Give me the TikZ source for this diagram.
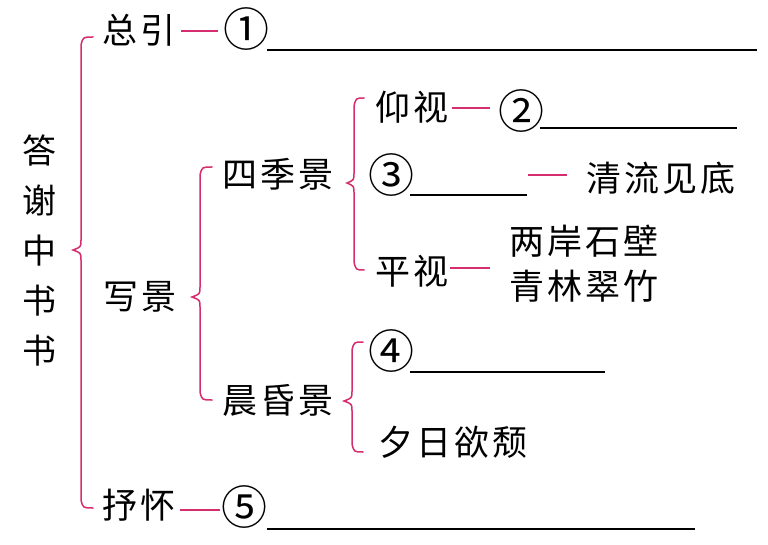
\documentclass[tikz,border=0pt]{standalone}
\usepackage{fontspec}
\newfontfamily\cjk[LetterSpace=8]{Noto Sans CJK SC}
\newfontfamily\cjkplain{Noto Sans CJK SC}
\definecolor{pk}{RGB}{214,45,110}
\newcommand\pkbrace[6]{% x, top, mid, bot, end offset, tip depth
  \draw[brc] (#1+#5,#2) .. controls (#1+2,#2) .. (#1,#2+8) -- (#1,#3-10)
    .. controls (#1,#3-3) .. (#1-#6,#3) .. controls (#1,#3+3) .. (#1,#3+10)
    -- (#1,#4-8) .. controls (#1+2,#4) .. (#1+#5,#4);}
\begin{document}
\begin{tikzpicture}[x=1pt,y=-1pt,
  lbl/.style={inner sep=0pt, font=\cjk\fontsize{35}{35}\selectfont},
  num/.style={inner sep=0pt, font=\cjkplain\fontsize{46}{46}\selectfont},
  pline/.style={draw=pk, line width=1.5pt},
  uline/.style={draw=black, line width=1.6pt},
  brc/.style={draw=pk, line width=1.5pt, line cap=round}]
\useasboundingbox (0,0) rectangle (768,545);
\fill[white] (0,0) rectangle (768,545);

% title
\node[inner sep=0pt, font=\cjkplain\fontsize{34}{50}\selectfont, align=center] (title) at (40,250) {答\\谢\\中\\书\\书};

% level 1
\node[lbl] (zy) at (139,30) {总引};
\node[lbl] (xj) at (140,297) {写景};
\node[lbl] (sh) at (139,505) {抒怀};

% 总引
\node[num] (n1) at (246,29) {①};
\coordinate (u1e) at (757,50);
\draw[pline] (181,31) -- (218,31);
\draw[uline] (267,50) -- (u1e);

% 抒怀
\node[num] (n5) at (244,507) {⑤};
\coordinate (u5e) at (695,529);
\draw[pline] (180,510) -- (220,510);
\draw[uline] (267,529) -- (u5e);

% 写景 children
\node[lbl] (sj) at (278,174) {四季景};
\node[lbl] (ch) at (278,400) {晨昏景};

% 四季景 children
\node[lbl] (yang) at (412,107) {仰视};
\node[num] (n2) at (521,111) {②};
\draw[pline] (452,108) -- (490,108);
\draw[uline] (540,128) -- (737,128);

\node[num] (n3) at (391,175) {③};
\draw[uline] (410,195) -- (527,195);
\draw[pline] (528,175) -- (567,175);
\node[lbl] (ql) at (661,178) {清流见底};

\node[lbl] (ping) at (412,271) {平视};
\draw[pline] (450,268) -- (490,268);
\node[lbl] (la) at (584,241) {两岸石壁};
\node[lbl] (ql2) at (584,286) {青林翠竹};

% 晨昏景 children
\node[num] (n4) at (391,351) {④};
\draw[uline] (410,372) -- (605,372);
\node[lbl] (xr) at (453,442) {夕日欲颓};

% braces
\pkbrace{81}{37}{250}{508}{12}{8}
\pkbrace{200}{167}{297}{400}{12}{8}
\pkbrace{354}{98}{183}{270}{10}{7}
\pkbrace{352}{342}{401}{452}{11}{8}
\end{tikzpicture}
\end{document}
